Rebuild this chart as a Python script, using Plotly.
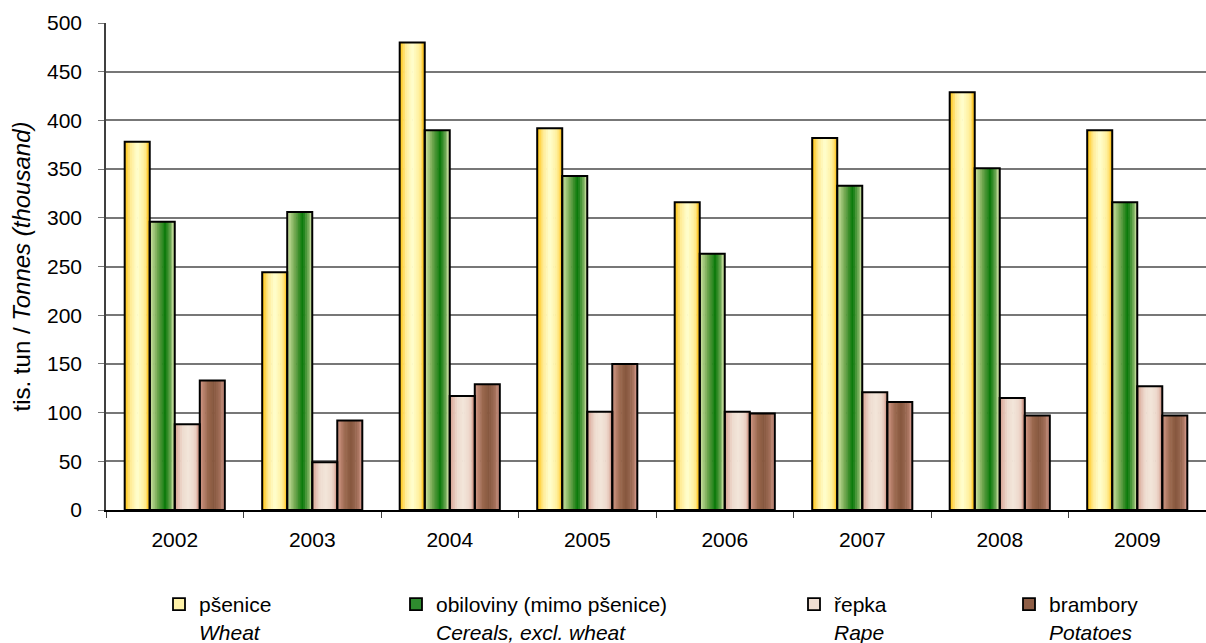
import plotly.graph_objects as go

# ---------------- data ----------------
years = ["2002", "2003", "2004", "2005", "2006", "2007", "2008", "2009"]
wheat = [378, 244, 480, 392, 316, 382, 429, 390]
cereals = [296, 306, 390, 343, 263, 333, 351, 316]
rape = [88, 49, 117, 101, 101, 121, 115, 127]
potatoes = [133, 92, 129, 150, 99, 111, 97, 97]
names_cz = ["pšenice", "obiloviny (mimo pšenice)", "řepka", "brambory"]
names_en = ["Wheat", "Cereals, excl. wheat", "Rape", "Potatoes"]
y_ticks = [0, 50, 100, 150, 200, 250, 300, 350, 400, 450, 500]

series = [wheat, cereals, rape, potatoes]

# ---------------- styles ----------------
gradients = [
    [(0.0, "#FFC20A"), (0.25, "#FFEC98"), (0.5, "#FFFFD0"), (0.8, "#FFEE98"), (1.0, "#FFC420")],
    [(0.0, "#D4E8A8"), (0.3, "#74A852"), (0.62, "#087808"), (0.85, "#76AC5A"), (1.0, "#CFE4A4")],
    [(0.0, "#D6A090"), (0.3, "#EEDBCF"), (0.55, "#F2E6DA"), (0.8, "#EDD6CA"), (1.0, "#D29C8C")],
    [(0.0, "#D49A8A"), (0.3, "#9C6A50"), (0.55, "#86573E"), (0.8, "#A06E58"), (1.0, "#D4988A")],
]
legend_colors = ["#FFF2A8", "#2E8B2E", "#F0DED2", "#8E5E46"]
legend_ids = ["legend", "legend2", "legend3", "legend4"]
legend_text_x = [202, 439, 837, 1052]

FONT = "Liberation Sans, Arial, sans-serif"
W, H = 1206, 643
ML, MR, MT, MB = 106, 0, 23, 133
PW, PH = W - ML - MR, H - MT - MB
BW = 0.182
N = 14


def hex2rgb(h):
    h = h.lstrip("#")
    return tuple(int(h[i:i + 2], 16) for i in (0, 2, 4))


def grad_color(stops, t):
    for (p0, c0), (p1, c1) in zip(stops[:-1], stops[1:]):
        if p0 <= t <= p1:
            f = (t - p0) / (p1 - p0) if p1 > p0 else 0
            a, b = hex2rgb(c0), hex2rgb(c1)
            return "rgb(%d,%d,%d)" % tuple(round(a[i] + (b[i] - a[i]) * f) for i in range(3))
    return stops[-1][1]


fig = go.Figure()
step = BW / N
for i, vals in enumerate(series):
    base = -2 * BW + i * BW
    for k in range(N):
        t = (k + 0.5) / N
        w = min(step * 1.35, BW - k * step)
        fig.add_trace(go.Bar(
            x=years, y=vals, offset=base + k * step, width=w,
            marker=dict(color=grad_color(gradients[i], t), line=dict(width=0)),
            showlegend=False, hoverinfo="skip"))

for i, vals in enumerate(series):
    base = -2 * BW + i * BW
    fig.add_trace(go.Bar(
        x=years, y=vals, offset=base, width=BW,
        marker=dict(color="rgba(0,0,0,0)", line=dict(color="black", width=2)),
        showlegend=False, name=names_cz[i]))

for i in range(4):
    fig.add_trace(go.Bar(
        x=[years[0]], y=[None],
        name="%s<br><i>%s</i>" % (names_cz[i], names_en[i]),
        marker=dict(color=legend_colors[i], line=dict(color="black", width=1.8)),
        legend=legend_ids[i], showlegend=True))

layout_legends = {}
for i in range(4):
    layout_legends[legend_ids[i]] = dict(
        x=(legend_text_x[i] - 43 - ML) / PW, xanchor="left",
        y=-(584 - (MT + PH)) / PH, yanchor="top",
        orientation="h", valign="top",
        bgcolor="rgba(0,0,0,0)",
        font=dict(family=FONT, size=21, color="black"))

fig.update_layout(
    width=W, height=H,
    margin=dict(l=ML, r=MR, t=MT, b=MB, autoexpand=False),
    barmode="overlay",
    paper_bgcolor="white", plot_bgcolor="white",
    font=dict(family=FONT, size=21, color="black"),
    **layout_legends,
)
fig.update_xaxes(
    type="category", showgrid=False, automargin=False,
    showline=True, linecolor="black", linewidth=1.8,
    ticks="outside", tickson="boundaries", ticklen=6, tickcolor="#404040",
    tickfont=dict(family=FONT, size=21, color="black"),
    ticklabelstandoff=10,
)
fig.update_yaxes(
    range=[0, 500], tickvals=y_ticks, automargin=False,
    showgrid=True, gridcolor="#777777", gridwidth=1.6,
    showline=True, linecolor="#404040", linewidth=1.6,
    ticks="outside", ticklen=6, tickcolor="#777777",
    tickfont=dict(family=FONT, size=21, color="black"),
    ticklabelstandoff=12,
    title=dict(text="tis. tun / <i>Tonnes (thousand)</i>",
               font=dict(family=FONT, size=24, color="black"), standoff=10),
    zeroline=False,
)

fig.write_html("out.html", config={"displayModeBar": False},
               post_script="document.body.style.margin='0';document.body.style.overflow='hidden';")
